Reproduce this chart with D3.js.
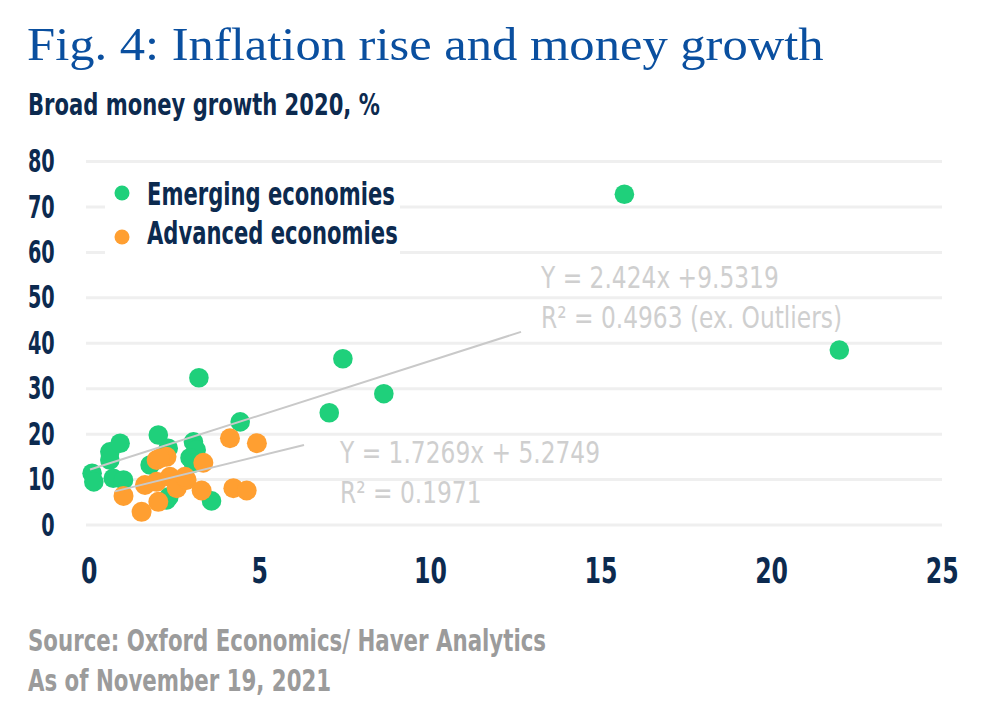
<!DOCTYPE html>
<html lang="en">
<head>
<meta charset="utf-8">
<title>Fig. 4: Inflation rise and money growth</title>
<style>
body {
  margin: 0;
  background: #fff;
}
svg {
  display: block;
}
.cond {
  font-family: "DejaVu Sans Condensed", "DejaVu Sans", sans-serif;
  font-weight: bold;
}
</style>
</head>
<body>
<div id="chart"></div>

<script src="https://cdn.jsdelivr.net/npm/d3@7"></script>
<script>

// data: [inflation rise, broad money growth 2020]
var emerging = [
  [0.1, 11.4], [0.15, 9.5], [0.72, 10.3], [1.02, 9.9], [0.62, 14.3], [0.62, 16.1],
  [0.92, 18.0], [1.8, 13.2], [2.04, 19.8], [2.33, 16.9], [2.28, 5.5], [2.35, 6.2],
  [3.07, 18.3], [3.15, 16.5], [2.97, 14.8], [3.07, 13.6], [3.6, 5.3], [3.23, 32.4],
  [4.44, 22.7], [7.05, 24.7], [7.45, 36.6], [8.65, 28.9], [15.7, 72.8], [22.0, 38.5]
];
var advanced = [
  [1.02, 6.4], [1.55, 2.9], [1.99, 14.3], [2.28, 15.0], [2.09, 14.7], [1.65, 8.8],
  [1.99, 9.5], [2.04, 5.1], [2.38, 10.6], [2.58, 8.1], [2.87, 9.9], [2.82, 10.6],
  [3.36, 13.7], [3.31, 7.6], [4.14, 19.1], [4.93, 18.0], [4.24, 8.1], [4.63, 7.6]
];

// trend lines as drawn on the chart (start and end points)
var emergingTrend = [[0.04, 12.2], [12.67, 42.5]];
var advancedTrend = [[0.77, 7.4], [6.31, 17.6]];

var xTicks = [0, 5, 10, 15, 20, 25];
var yTicks = [0, 10, 20, 30, 40, 50, 60, 70, 80];

var legendItems = [
  {name: "Emerging economies", color: "#1fd07b"},
  {name: "Advanced economies", color: "#ff9f31"}
];

var emergingLabel = ["Y = 2.424x +9.5319", "R\u00B2 = 0.4963 (ex. Outliers)"];
var advancedLabel = ["Y = 1.7269x + 5.2749", "R\u00B2 = 0.1971"];
var sourceLines = ["Source: Oxford Economics/ Haver Analytics", "As of November 19, 2021"];

var width = 1000, height = 710;
var navy = "#0c2a4f";

// no condensed face installed, so squeeze the glyphs horizontally
function squeeze(sel, k) {
  sel.each(function() {
    var t = d3.select(this);
    var tx = +t.attr("x") || 0, ty = +t.attr("y") || 0;
    t.attr("x", 0).attr("y", 0)
      .attr("transform", "translate(" + tx + "," + ty + ") scale(" + k + ",1)");
  });
}

var svg = d3.select("#chart").append("svg")
  .attr("width", width)
  .attr("height", height);

var x = d3.scaleLinear().domain([0, 25]).range([88.7, 941.7]);
var y = d3.scaleLinear().domain([0, 80]).range([525, 161.5]);

// title + subtitle
svg.append("text")
  .attr("x", 27).attr("y", 60)
  .attr("fill", "#0a4f9f")
  .style("font-family", "'Liberation Serif', 'DejaVu Serif', serif")
  .style("font-size", "46px")
  .text("Fig. 4: Inflation rise and money growth")
  .call(squeeze, 1.1);

svg.append("text")
  .attr("class", "cond")
  .attr("x", 28).attr("y", 115)
  .attr("fill", navy)
  .style("font-size", "31px")
  .text("Broad money growth 2020, %")
  .call(squeeze, 0.757);

// gridlines
svg.append("g")
  .selectAll("line")
  .data(yTicks)
  .join("line")
  .attr("x1", 86).attr("x2", 942)
  .attr("y1", d => y(d)).attr("y2", d => y(d))
  .attr("stroke", "#efefef")
  .attr("stroke-width", 3);

// axes
var yAxis = svg.append("g")
  .attr("transform", "translate(" + x(0) + ",0)")
  .call(d3.axisLeft(y).tickValues(yTicks).tickSize(0).tickPadding(34));
yAxis.select(".domain").remove();
yAxis.selectAll("text")
  .attr("class", "cond")
  .attr("fill", navy)
  .style("font-size", "31.5px")
  .call(squeeze, 0.68);

var xAxis = svg.append("g")
  .attr("transform", "translate(0," + y(0) + ")")
  .call(d3.axisBottom(x).tickValues(xTicks).tickSize(0).tickPadding(32));
xAxis.select(".domain").remove();
xAxis.selectAll("text")
  .attr("class", "cond")
  .attr("fill", navy)
  .style("font-size", "36px")
  .call(squeeze, 0.73);

// legend (white box breaks the gridlines)
svg.append("rect")
  .attr("x", 105).attr("y", 170)
  .attr("width", 295).attr("height", 88)
  .attr("fill", "#fff");

var legend = svg.append("g")
  .selectAll("g")
  .data(legendItems)
  .join("g");
legend.append("circle")
  .attr("cx", 122)
  .attr("cy", (d, i) => 193 + i * 44)
  .attr("r", 7.5)
  .attr("fill", d => d.color);
legend.append("text")
  .attr("class", "cond")
  .attr("x", 147)
  .attr("y", (d, i) => 205 + i * 39)
  .attr("fill", navy)
  .style("font-size", "31.5px")
  .text(d => d.name)
  .call(squeeze, 0.745);

// points
svg.append("g")
  .selectAll("circle")
  .data(emerging)
  .join("circle")
  .attr("cx", d => x(d[0]))
  .attr("cy", d => y(d[1]))
  .attr("r", 9.8)
  .attr("fill", legendItems[0].color);

svg.append("g")
  .selectAll("circle")
  .data(advanced)
  .join("circle")
  .attr("cx", d => x(d[0]))
  .attr("cy", d => y(d[1]))
  .attr("r", 10)
  .attr("fill", legendItems[1].color);

// trend lines
var line = d3.line().x(d => x(d[0])).y(d => y(d[1]));
[emergingTrend, advancedTrend].forEach(function(t) {
  svg.append("path")
    .attr("d", line(t))
    .attr("fill", "none")
    .attr("stroke", "#c9c9c9")
    .attr("stroke-width", 2);
});

// equation labels
function addLabel(lines, x0, y0) {
  svg.append("g")
    .selectAll("text")
    .data(lines)
    .join("text")
    .attr("class", "cond")
    .style("font-weight", "normal")
    .style("font-size", "30px")
    .attr("fill", "#cfcfcf")
    .attr("x", x0)
    .attr("y", (d, i) => y0 + i * 40)
    .text(d => d)
    .call(squeeze, 0.865);
}
addLabel(emergingLabel, 541, 288);
addLabel(advancedLabel, 340, 463);

// source
svg.append("g")
  .selectAll("text")
  .data(sourceLines)
  .join("text")
  .attr("class", "cond")
  .attr("x", 28)
  .attr("y", (d, i) => 651 + i * 40)
  .attr("fill", "#9b9b9b")
  .style("font-size", "31px")
  .text(d => d)
  .call(squeeze, 0.765);

</script>
</body>
</html>
